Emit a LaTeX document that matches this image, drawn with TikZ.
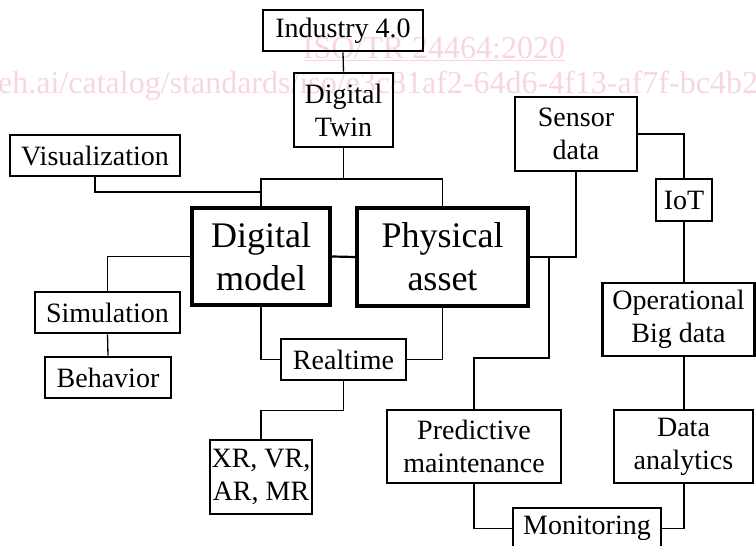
\documentclass[tikz,border=0pt]{standalone}
\usepackage{fontspec}
\setmainfont{Liberation Serif}
\definecolor{wmpink}{RGB}{248,214,224}
\begin{document}
\begin{tikzpicture}[x=1pt,y=1pt,yscale=-1,
  box/.style={draw,line width=2.6pt,align=center,inner sep=0pt,font=\fontsize{28}{33}\selectfont},
  bigbox/.style={draw,line width=4.3pt,align=center,inner sep=0pt,font=\fontsize{36}{43}\selectfont},
  link/.style={line width=1.3pt},
  wmark/.style={text=wmpink,inner sep=0pt,font=\fontsize{32}{38}\selectfont}]
\useasboundingbox (0,0) rectangle (756,546);
\clip (0,0) rectangle (756,546);

% watermark of the scan
\node[wmark,anchor=base] (wmtitle) at (434,58) {\underline{ISO/TR 24464:2020}};
\node[wmark,anchor=base west] (wmurl) at (-2,93) {eh.ai/catalog/standards/iso/e3c81af2-64d6-4f13-af7f-bc4b2c};

\node[box,minimum width=160pt,minimum height=41pt] (ind) at (343,30.5) {Industry 4.0};
\node[box,minimum width=99pt,minimum height=74pt] (twin) at (343.5,110) {Digital\\Twin};
\node[box,minimum width=170pt,minimum height=41pt] (vis) at (95,155.5) {Visualization};
\node[bigbox,minimum width=138pt,minimum height=97pt] (dm) at (261,256.5) {Digital\\model};
\node[bigbox,minimum width=171pt,minimum height=98pt] (pa) at (442.5,257) {Physical\\asset};
\node[box,minimum width=145pt,minimum height=41pt] (sim) at (107.5,312.5) {Simulation};
\node[box,minimum width=126pt,minimum height=41pt] (beh) at (108,377.5) {Behavior};
\node[box,minimum width=125pt,minimum height=41pt] (rt) at (343.5,359.5) {Realtime};
\node[box,minimum width=102pt,minimum height=74pt] (xr) at (261,477) {XR, VR,\\AR, MR};
\node[box,minimum width=122pt,minimum height=74pt] (sd) at (576,134) {Sensor\\data};
\node[box,minimum width=56pt,minimum height=42pt] (iot) at (684,200) {IoT};
\node[box,minimum width=152pt,minimum height=73pt] (op) at (678.5,319.5) {Operational\\Big data};
\node[box,minimum width=174pt,minimum height=73pt] (pm) at (474,446.5) {Predictive\\maintenance};
\node[box,minimum width=139pt,minimum height=73pt] (da) at (683.5,446.5) {Data\\analytics};
\node[box,minimum width=148pt,minimum height=41pt] (mon) at (587,528.5) {Monitoring};

\coordinate (twinbus) at (343.5,179);
\coordinate (visj) at (261,192);
\coordinate (paj) at (549,257);

\draw[link] (ind.south) -- (twin.north);
\draw[link] (twin.south) -- (twinbus) -| (dm.north);
\draw[link] (twinbus) -| (pa.north);
\draw[link] (vis.south) |- (visj);
\draw[link] (dm.west) -| (sim.north);
\draw[link] (sim.south) -- (beh.north);
\draw[line width=2.2pt] (dm.east) -- (pa.west);
\draw[link] (dm.south) |- (rt.west);
\draw[link] (pa.south) |- (rt.east);
\draw[link] (rt.south) -- ++(0,29) -| (xr.north);
\draw[link] (sd.south) |- (pa.east);
\draw[line width=2.2pt] (pa.east) -- (paj);
\draw[link] (paj) -- ++(0,101) -| (pm.north);
\draw[link] (sd.east) -| (iot.north);
\draw[link] (iot.south) -- (iot.south |- op.north);
\draw[link] (op.south -| iot.south) -- (da.north -| iot.south);
\draw[link] (pm.south) |- (mon.west);
\draw[link] (da.south -| iot.south) |- (mon.east);

\end{tikzpicture}
\end{document}
